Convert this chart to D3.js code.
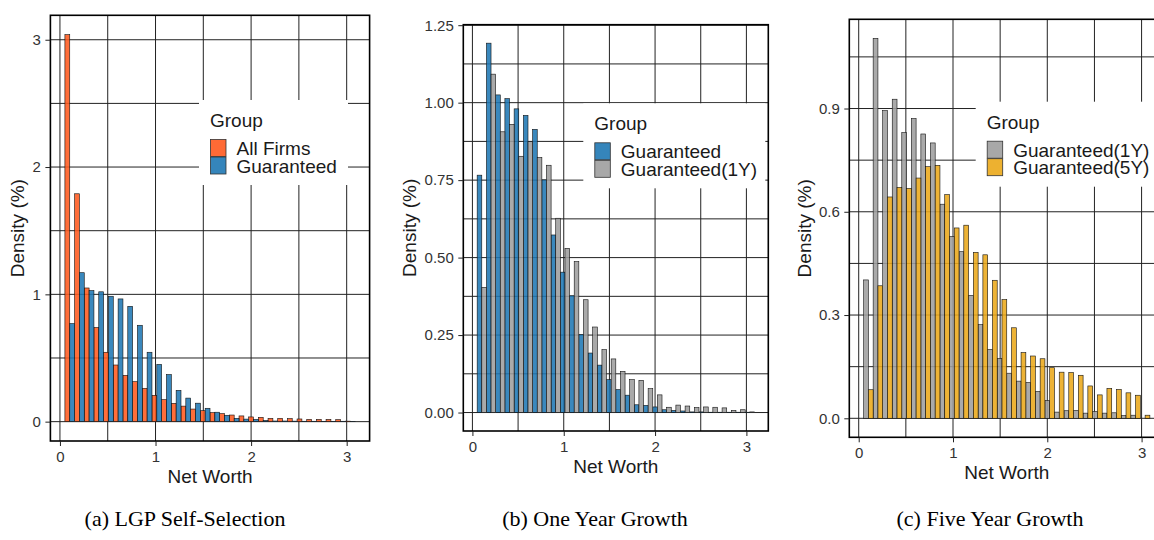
<!DOCTYPE html>
<html>
<head>
<meta charset="utf-8">
<script src="https://cdn.jsdelivr.net/npm/d3@7"></script>
<style>
  body { margin: 0; background: #fff; }
  svg { display: block; }
  .tick text { font-family: "Liberation Sans", Arial, sans-serif; }
</style>
</head>
<body>
<svg id="fig" width="1154" height="540"></svg>
<script>
// Histogram bins shared by the three panels (30 equal-width bins of net worth)
const nBins = 30;
const binLo = 0.052;
const binW = 0.1012;
const xTicks = [0, 1, 2, 3];

// (a) LGP self-selection: density (%) per bin
const allFirms = [3.04, 1.79, 1.05, 0.74, 0.545, 0.445, 0.364, 0.314, 0.262, 0.207,
  0.173, 0.144, 0.122, 0.099, 0.086, 0.071, 0.063, 0.052, 0.045, 0.037,
  0.034, 0.026, 0.026, 0.024, 0.021, 0.018, 0.018, 0.018, 0.016, 0.004];
const guaranteedA = [0.77, 1.17, 1.03, 1.02, 0.985, 0.964, 0.906, 0.757, 0.545, 0.45,
  0.37, 0.246, 0.185, 0.145, 0.105, 0.074, 0.05, 0.026, 0.02, 0.018,
  0.01, 0.005, 0.005, 0.004, 0.003, 0.003, 0.002, 0.002, 0.003, 0.002];
const yTicksA = [0, 1, 2, 3];

// (b) one year growth
const guaranteedB = [0.766, 1.192, 1.025, 1.013, 0.980, 0.959, 0.914, 0.751, 0.573, 0.453,
  0.377, 0.252, 0.192, 0.153, 0.106, 0.074, 0.056, 0.025, 0.023, 0.018,
  0.009, 0.007, 0.005, 0.002, 0.002, 0.001, 0.001, 0.001, 0.001, 0.001];
const guaranteed1YB = [0.404, 1.092, 0.906, 0.930, 0.827, 0.874, 0.823, 0.798, 0.627, 0.530,
  0.487, 0.364, 0.276, 0.203, 0.173, 0.133, 0.106, 0.104, 0.077, 0.057,
  0.017, 0.024, 0.021, 0.016, 0.018, 0.017, 0.015, 0.007, 0.009, 0.002];
const yTicksB = [0, 0.25, 0.5, 0.75, 1, 1.25];

// (c) five year growth
const guaranteed1YC = [0.402, 1.104, 0.894, 0.927, 0.830, 0.871, 0.826, 0.800, 0.622, 0.528,
  0.484, 0.357, 0.272, 0.200, 0.174, 0.131, 0.108, 0.104, 0.078, 0.052,
  0.018, 0.022, 0.023, 0.015, 0.020, 0.015, 0.016, 0.008, 0.009, 0.000];
const guaranteed5YC = [0.083, 0.385, 0.643, 0.671, 0.668, 0.698, 0.731, 0.735, 0.650, 0.553,
  0.561, 0.482, 0.475, 0.401, 0.345, 0.263, 0.191, 0.181, 0.173, 0.147,
  0.134, 0.133, 0.125, 0.094, 0.068, 0.087, 0.084, 0.074, 0.067, 0.009];
const yTicksC = [0, 0.3, 0.6, 0.9];

const COLORS = {
  orange: "#ff5a1f",
  blue: "#1f78b4",
  grey: "#9e9e9e",
  gold: "#eba81a"
};

const SANS = '"Liberation Sans", Arial, sans-serif';
const SERIF = '"Liberation Serif", "Times New Roman", serif';
const INK = "#1a1a1a";

const panels = [
  {
    series: [
      { name: "All Firms", values: allFirms, color: COLORS.orange },
      { name: "Guaranteed", values: guaranteedA, color: COLORS.blue }
    ],
    yTicks: yTicksA, yFmt: d3.format("d"),
    frame: { l: 50.4, r: 369.6, t: 15.3, b: 441 },
    legend: { x: 199, y: 100, w: 149 },
    yTitleX: 17,
    caption: "(a) LGP Self-Selection", captionX: 185
  },
  {
    series: [
      { name: "Guaranteed", values: guaranteedB, color: COLORS.blue },
      { name: "Guaranteed(1Y)", values: guaranteed1YB, color: COLORS.grey }
    ],
    yTicks: yTicksB, yFmt: d3.format(".2f"),
    frame: { l: 463.3, r: 768.3, t: 24.7, b: 431 },
    legend: { x: 583.3, y: 103.3, w: 182 },
    yTitleX: 409,
    caption: "(b) One Year Growth", captionX: 595
  },
  {
    series: [
      { name: "Guaranteed(1Y)", values: guaranteed1YC, color: COLORS.grey },
      { name: "Guaranteed(5Y)", values: guaranteed5YC, color: COLORS.gold }
    ],
    yTicks: yTicksC, yFmt: d3.format(".1f"),
    frame: { l: 849.3, r: 1164.2, t: 19.3, b: 437.3 },
    legend: { x: 975.7, y: 101.7, w: 190 },
    yTitleX: 804.5,
    caption: "(c) Five Year Growth", captionX: 990
  }
];

const svg = d3.select("#fig");

// Minor grid positions: midpoints between major breaks, inside the domain
function minorBreaks(ticks, domain) {
  const step = ticks[1] - ticks[0];
  const out = [];
  for (let v = ticks[0] - step / 2; v <= ticks[ticks.length - 1] + step / 2 + 1e-9; v += step) {
    if (v >= domain[0] && v <= domain[1]) out.push(+v.toFixed(6));
  }
  return out;
}

panels.forEach((p, pi) => {
  const f = p.frame;
  const hi = binLo + nBins * binW;
  const pad = 0.05 * (hi - binLo);
  const x = d3.scaleLinear().domain([binLo - pad, hi + pad]).range([f.l, f.r]);
  const ymax = d3.max(p.series, s => d3.max(s.values));
  const y = d3.scaleLinear().domain([-0.05 * ymax, 1.05 * ymax]).range([f.b, f.t]);

  const g = svg.append("g");
  const clipId = "clip" + pi;
  g.append("clipPath").attr("id", clipId)
    .append("rect").attr("x", f.l).attr("y", f.t)
    .attr("width", f.r - f.l).attr("height", f.b - f.t);

  const plot = g.append("g").attr("clip-path", `url(#${clipId})`);

  // grid (major + minor)
  const xGrid = xTicks.concat(minorBreaks(xTicks, x.domain()));
  const yGrid = p.yTicks.concat(minorBreaks(p.yTicks, y.domain()));
  plot.selectAll(".gx").data(xGrid).join("line")
    .attr("x1", d => x(d)).attr("x2", d => x(d))
    .attr("y1", f.t).attr("y2", f.b)
    .attr("stroke", "#222").attr("stroke-width", 1);
  plot.selectAll(".gy").data(yGrid).join("line")
    .attr("x1", f.l).attr("x2", f.r)
    .attr("y1", d => y(d)).attr("y2", d => y(d))
    .attr("stroke", "#222").attr("stroke-width", 1);

  // dodged histogram bars
  const half = binW / 2;
  p.series.forEach((s, si) => {
    plot.append("g").selectAll("rect").data(s.values).join("rect")
      .attr("x", (d, i) => x(binLo + i * binW + si * half))
      .attr("width", (d, i) => x(binLo + i * binW + (si + 1) * half) - x(binLo + i * binW + si * half))
      .attr("y", d => y(d))
      .attr("height", d => y(0) - y(d))
      .attr("fill", s.color)
      .attr("fill-opacity", 0.88)
      .attr("stroke", "#111")
      .attr("stroke-width", 0.6);
  });

  // legend
  const L = p.legend;
  const lg = plot.append("g");
  lg.append("rect").attr("x", L.x).attr("y", L.y).attr("width", L.w).attr("height", 85)
    .attr("fill", "#fff");
  lg.append("text").attr("x", L.x + 11).attr("y", L.y + 27)
    .attr("font-family", SANS).attr("font-size", 19).attr("fill", INK).text("Group");
  p.series.forEach((s, si) => {
    lg.append("rect").attr("x", L.x + 11.5).attr("y", L.y + 39.5 + si * 17.5)
      .attr("width", 15.5).attr("height", 17)
      .attr("fill", s.color).attr("fill-opacity", 0.9)
      .attr("stroke", "#333").attr("stroke-width", 0.8);
    lg.append("text").attr("x", L.x + 37.5).attr("y", L.y + 55 + si * 17.6)
      .attr("font-family", SANS).attr("font-size", 19).attr("fill", INK).text(s.name);
  });

  // frame
  g.append("rect").attr("x", f.l).attr("y", f.t)
    .attr("width", f.r - f.l).attr("height", f.b - f.t)
    .attr("fill", "none").attr("stroke", "#000").attr("stroke-width", 1.6);

  // axes
  const ax = g.append("g").attr("transform", `translate(0,${f.b})`)
    .call(d3.axisBottom(x).tickValues(xTicks).tickFormat(d3.format("d")).tickSize(5).tickPadding(5));
  const ay = g.append("g").attr("transform", `translate(${f.l},0)`)
    .call(d3.axisLeft(y).tickValues(p.yTicks).tickFormat(p.yFmt).tickSize(5).tickPadding(4.5));
  [ax, ay].forEach(a => {
    a.select(".domain").remove();
    a.selectAll(".tick line").attr("stroke", "#222").attr("stroke-width", 1);
    a.selectAll(".tick text").attr("font-size", 15).attr("fill", "#333");
  });

  // axis titles
  g.append("text")
    .attr("x", (f.l + f.r) / 2).attr("y", f.b + 42)
    .attr("text-anchor", "middle").attr("font-family", SANS).attr("font-size", 19)
    .attr("fill", INK).text("Net Worth");
  g.append("text")
    .attr("transform", `translate(${p.yTitleX},${(f.t + f.b) / 2}) rotate(-90)`)
    .attr("dy", "0.35em")
    .attr("text-anchor", "middle").attr("font-family", SANS).attr("font-size", 19)
    .attr("fill", INK).text("Density (%)");

  // caption
  g.append("text")
    .attr("x", p.captionX).attr("y", 526)
    .attr("text-anchor", "middle").attr("font-family", SERIF).attr("font-size", 22)
    .attr("fill", "#000").text(p.caption);
});
</script>
</body>
</html>
